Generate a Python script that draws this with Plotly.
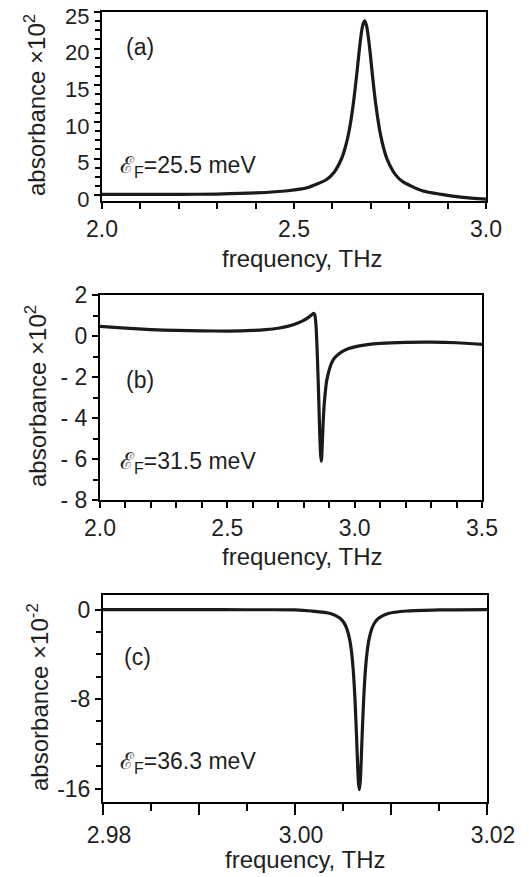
import plotly.graph_objects as go

# ---- data ----
freq_a = [2.00, 2.10, 2.20, 2.30, 2.40, 2.484, 2.534, 2.584, 2.604, 2.624, 2.634, 2.644,
          2.654, 2.664, 2.669, 2.674, 2.679, 2.684, 2.689, 2.694, 2.699, 2.704, 2.709,
          2.714, 2.724, 2.734, 2.744, 2.764, 2.784, 2.834, 2.884, 2.94, 3.00]
abs_a = [0.1, 0.1, 0.1, 0.15, 0.3, 0.6, 1.0, 2.1, 3.1, 5.0, 6.6, 8.9,
         12.3, 16.8, 19.3, 21.6, 23.2, 23.8, 23.1, 21.4, 19.1, 16.5, 14.1,
         12.0, 8.6, 6.3, 4.7, 2.8, 1.8, 0.6, 0.1, -0.3, -0.55]

freq_b = [2.00, 2.10, 2.20, 2.30, 2.40, 2.50, 2.60, 2.65, 2.70, 2.74, 2.78, 2.80, 2.82,
          2.83, 2.838, 2.843, 2.847, 2.850, 2.853, 2.856, 2.859, 2.862, 2.865, 2.868,
          2.870, 2.873, 2.876, 2.880, 2.885, 2.890, 2.90, 2.91, 2.92, 2.94, 2.96, 2.98,
          3.00, 3.05, 3.10, 3.20, 3.30, 3.40, 3.50]
abs_b = [0.47, 0.38, 0.31, 0.27, 0.25, 0.24, 0.27, 0.31, 0.38, 0.48, 0.65, 0.76, 0.92,
         1.02, 1.10, 1.05, 0.7, 0.1, -0.8, -1.9, -3.1, -4.4, -5.5, -6.1,
         -6.0, -5.2, -4.3, -3.4, -2.7, -2.2, -1.65, -1.3, -1.08, -0.85, -0.7, -0.6,
         -0.53, -0.42, -0.36, -0.31, -0.30, -0.33, -0.41]

freq_c = [2.98, 2.99, 2.995, 3.000, 3.0017, 3.0037, 3.0047, 3.0051, 3.0054, 3.0057,
          3.0059, 3.0061, 3.00625, 3.0064, 3.0065, 3.0066, 3.0067, 3.0068, 3.0069,
          3.0070, 3.00715, 3.0073, 3.0075, 3.0077, 3.0080, 3.0083, 3.0087, 3.0097,
          3.0117, 3.015, 3.02]
abs_c = [0.0, 0.0, -0.02, -0.03, -0.13, -0.35, -0.78, -1.18, -1.72, -2.71,
         -3.87, -5.8, -8.05, -11.1, -13.4, -15.35, -16.1, -15.35, -13.4,
         -11.1, -8.05, -5.8, -3.87, -2.71, -1.72, -1.18, -0.78, -0.35,
         -0.13, -0.03, 0.0]

ticks_b_vals = [2, 0, -2, -4, -6, -8]
ticks_b_text = ["2", "0", "- 2", "- 4", "- 6", "- 8"]
ticks_c_vals = [0, -8, -16]
ticks_c_text = ["0", "-8", "-16"]
xticks_c_vals = [2.98, 2.99, 3.00, 3.01, 3.02]
xticks_c_text = ["2.98", "", "3.00", "", "3.02"]

labels = ["(a)", "(b)", "(c)"]
ef_labels = ["ℰ<sub>F</sub>=25.5 meV", "ℰ<sub>F</sub>=31.5 meV", "ℰ<sub>F</sub>=36.3 meV"]
ytitles = ["absorbance ×10<sup>2</sup>", "absorbance ×10<sup>2</sup>", "absorbance ×10<sup>-2</sup>"]
xtitle = "frequency, THz"

W, H = 529, 877
OFF = 8  # the page body margin shifts the figure by 8 px right and down
FONT = "Liberation Sans, Arial, sans-serif"
LINE = "#1a1a1a"
TXT = "#1f1f1f"

fig = go.Figure()
for fx, fy, xa, ya in [(freq_a, abs_a, "x", "y"), (freq_b, abs_b, "x2", "y2"), (freq_c, abs_c, "x3", "y3")]:
    fig.add_trace(go.Scatter(x=fx, y=fy, mode="lines",
                             line=dict(color=LINE, width=3.2, shape="spline", smoothing=0.6),
                             xaxis=xa, yaxis=ya, showlegend=False))

def sx(a):
    return (a - OFF) / W

def sy(a):
    return 1 - (a - OFF) / H

def px_x(a, b):
    return [sx(a), sx(b)]

def px_y(top, bot):
    return [sy(bot), sy(top)]

common = dict(showline=True, linecolor="black", linewidth=2, mirror=True, ticks="outside",
              tickcolor="black", tickwidth=1.5, ticklen=6, showgrid=False, zeroline=False,
              automargin=False, ticklabeloverflow="allow",
              tickfont=dict(size=23, color=TXT))

layout = dict(
    width=W, height=H, margin=dict(l=0, r=0, t=0, b=0),
    paper_bgcolor="white", plot_bgcolor="white",
    font=dict(family=FONT, size=23, color=TXT),
    xaxis=dict(domain=px_x(102, 486), anchor="y", range=[2.0, 3.0], dtick=0.5, tick0=2.0,
               tickformat=".1f", minor=dict(dtick=0.1, ticks="outside", ticklen=6, tickcolor="black"),
               **common),
    yaxis=dict(domain=px_y(12, 201), anchor="x", range=[-0.8, 25], dtick=5, tick0=0,
               ticklabelshift=4,
               minor=dict(dtick=1.25, ticks="outside", ticklen=5, tickcolor="black"),
               **{**common, "tickfont": dict(size=22, color=TXT)}),
    xaxis2=dict(domain=px_x(100, 482), anchor="y2", range=[2.0, 3.5], dtick=0.5, tick0=2.0,
                tickformat=".1f", minor=dict(dtick=0.1, ticks="outside", ticklen=6, tickcolor="black"),
                **common),
    yaxis2=dict(domain=px_y(295, 500), anchor="x2", range=[-8, 2], tickmode="array",
                tickvals=ticks_b_vals, ticktext=ticks_b_text,
                minor=dict(dtick=1, ticks="outside", ticklen=5, tickcolor="black"),
                **common),
    xaxis3=dict(domain=px_x(103, 487), anchor="y3", range=[2.98, 3.02], tickmode="array",
                tickvals=xticks_c_vals, ticktext=xticks_c_text, ticklabelshift=6,
                minor=dict(dtick=0.005, ticks="outside", ticklen=7, tickcolor="black"),
                **{**common, "ticklen": 11}),
    yaxis3=dict(domain=px_y(595, 802), anchor="x3", range=[-17.2, 1.3], tickmode="array",
                tickvals=ticks_c_vals, ticktext=ticks_c_text,
                minor=dict(dtick=2, ticks="outside", ticklen=5, tickcolor="black"),
                **common),
)
fig.update_layout(**layout)

# axis titles placed as paper annotations (pixel centres)
xtitle_pos = [(302, 258), (302, 556), (305, 859)]
ytitle_pos = [(35, 105), (36, 396), (38, 697)]
for (xx, xy), (yx, yy), yt in zip(xtitle_pos, ytitle_pos, ytitles):
    fig.add_annotation(x=sx(xx), y=sy(xy), xref="paper", yref="paper", text=xtitle,
                       showarrow=False, xanchor="center", yanchor="middle",
                       font=dict(size=24, color=TXT, family=FONT))
    fig.add_annotation(x=sx(yx), y=sy(yy), xref="paper", yref="paper", text=yt,
                       showarrow=False, xanchor="center", yanchor="middle", textangle=-90,
                       font=dict(size=24, color=TXT, family=FONT))

ann_pos = [((124, 47), (118, 166)), ((124, 380), (118, 462)), ((122, 657), (118, 762))]
for lab, ef, ((lx, ly), (ex, ey)) in zip(labels, ef_labels, ann_pos):
    fig.add_annotation(x=sx(lx), y=sy(ly), xref="paper", yref="paper", text=lab,
                       showarrow=False, xanchor="left", yanchor="middle",
                       font=dict(size=23, color=TXT, family=FONT))
    fig.add_annotation(x=sx(ex), y=sy(ey), xref="paper", yref="paper", text=ef,
                       showarrow=False, xanchor="left", yanchor="middle",
                       font=dict(size=23, color=TXT, family=FONT))

fig.write_html("out.html")
